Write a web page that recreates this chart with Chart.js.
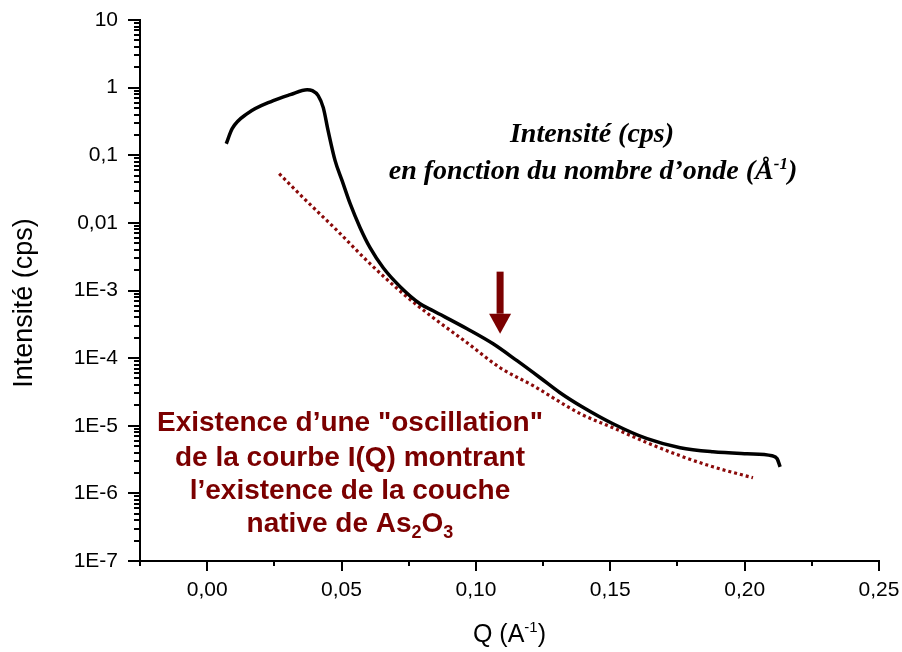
<!DOCTYPE html>
<html>
<head>
<meta charset="utf-8">
<script src="https://cdn.jsdelivr.net/npm/chart.js@4.4.0/dist/chart.umd.min.js"></script>
<style>
  html, body { margin: 0; padding: 0; background: #fff; }
  #wrap { width: 902px; height: 652px; }
</style>
</head>
<body>
<div id="wrap"><canvas id="curve" width="902" height="652"></canvas></div>
<script>
// mesure I(Q)
const qMeasured = [0.0071, 0.0093, 0.0149, 0.0246, 0.0309, 0.0372, 0.0391, 0.0413, 0.0432, 0.0450,
  0.0476, 0.0502, 0.0532, 0.0569, 0.0606, 0.0655, 0.0718, 0.0792, 0.0841, 0.0967,
  0.1064, 0.1153, 0.1239, 0.1313, 0.1395, 0.1510, 0.1637, 0.1760, 0.1882, 0.2009,
  0.2102, 0.2121, 0.2132];
const iMeasured = [0.148, 0.247, 0.412, 0.642, 0.787, 0.934, 0.903, 0.762, 0.506, 0.231,
  0.0832, 0.0421, 0.0192, 0.00849, 0.00430, 0.00217, 0.00114, 6.38e-4, 5.02e-4, 2.72e-4,
  1.63e-4, 9.16e-5, 5.13e-5, 3.08e-5, 1.91e-5, 1.07e-5, 6.43e-6, 4.73e-6, 4.12e-6, 3.85e-6,
  3.60e-6, 3.25e-6, 2.47e-6];

// courbe sans couche (pointillés)
const qFit = [0.0268, 0.0357, 0.0484, 0.0606, 0.0729, 0.0841, 0.0967, 0.1090, 0.1213, 0.1388,
  0.1510, 0.1637, 0.1760, 0.1882, 0.2031];
const iFit = [0.0534, 0.0236, 0.00767, 0.00249, 8.97e-4, 3.96e-4, 1.69e-4, 7.21e-5, 3.91e-5, 1.51e-5,
  9.34e-6, 5.61e-6, 3.60e-6, 2.47e-6, 1.70e-6];

const xTicks = [0, 0.05, 0.10, 0.15, 0.20, 0.25];
const yTicks = [1e-7, 1e-6, 1e-5, 1e-4, 1e-3, 0.01, 0.1, 1, 10];
const yTickLabels = ['1E-7', '1E-6', '1E-5', '1E-4', '1E-3', '0,01', '0,1', '1', '10'];

// flèche : position de l'oscillation
const arrowQ = 0.109;
const arrowTop = 1.9e-3;
const arrowTip = 2.3e-4;

const SANS = '"Liberation Sans", Arial, sans-serif';
const SERIF = '"Liberation Serif", "Times New Roman", serif';
const DARKRED = '#7b0000';

const toPoints = (xs, ys) => xs.map((x, i) => ({ x: x, y: ys[i] }));

const decor = {
  id: 'decor',
  afterDraw(chart) {
    const ctx = chart.ctx;
    const x = chart.scales.x, y = chart.scales.y;
    const area = chart.chartArea;
    ctx.save();
    ctx.strokeStyle = '#000';
    ctx.lineWidth = 2;

    // ticks axe y (décades + mineurs)
    for (let d = -7; d <= 1; d++) {
      for (let k = 1; k <= 9; k++) {
        const v = k * Math.pow(10, d);
        if (v > 10.0001) break;
        const p = Math.round(y.getPixelForValue(v));
        const len = k === 1 ? 12 : 6;
        ctx.beginPath();
        ctx.moveTo(area.left - len, p);
        ctx.lineTo(area.left, p);
        ctx.stroke();
      }
    }
    // ticks axe x
    for (let j = 0; j <= 11; j++) {
      const v = -0.025 + j * 0.025;
      const p = Math.round(x.getPixelForValue(v));
      const len = j % 2 === 1 ? 10 : 5;
      ctx.beginPath();
      ctx.moveTo(p, area.bottom);
      ctx.lineTo(p, area.bottom + len);
      ctx.stroke();
    }

    // titre axe y
    ctx.fillStyle = '#000';
    ctx.save();
    ctx.translate(25, 303);
    ctx.rotate(-Math.PI / 2);
    ctx.textAlign = 'center';
    ctx.textBaseline = 'middle';
    ctx.font = '27px ' + SANS;
    ctx.fillText('Intensité (cps)', 0, 0);
    ctx.restore();

    // titre axe x avec exposant
    ctx.textBaseline = 'alphabetic';
    const a = 'Q (A', b = '-1', c = ')';
    ctx.font = '25px ' + SANS; const wa = ctx.measureText(a).width; const wc = ctx.measureText(c).width;
    ctx.font = '15px ' + SANS; const wb = ctx.measureText(b).width;
    let sx = (area.left + area.right) / 2 - (wa + wb + wc) / 2;
    const by = 642;
    ctx.textAlign = 'left';
    ctx.font = '25px ' + SANS; ctx.fillText(a, sx, by); sx += wa;
    ctx.font = '15px ' + SANS; ctx.fillText(b, sx, by - 10); sx += wb;
    ctx.font = '25px ' + SANS; ctx.fillText(c, sx, by);

    // texte noir en italique
    ctx.font = 'italic bold 28px ' + SERIF;
    ctx.textAlign = 'center';
    ctx.fillText('Intensité (cps)', 592, 142);
    const l2 = 'en fonction du nombre d\u2019onde (\u00C5';
    ctx.font = 'italic bold 28px ' + SERIF; const w1 = ctx.measureText(l2).width; const wp = ctx.measureText(')').width;
    ctx.font = 'italic bold 17px ' + SERIF; const w2 = ctx.measureText('-1').width;
    let tx = 593 - (w1 + w2 + wp) / 2;
    ctx.textAlign = 'left';
    ctx.font = 'italic bold 28px ' + SERIF; ctx.fillText(l2, tx, 179); tx += w1;
    ctx.font = 'italic bold 17px ' + SERIF; ctx.fillText('-1', tx, 169); tx += w2;
    ctx.font = 'italic bold 28px ' + SERIF; ctx.fillText(')', tx, 179);

    // texte rouge
    ctx.fillStyle = DARKRED;
    ctx.textAlign = 'center';
    ctx.font = 'bold 28px ' + SANS;
    ctx.fillText('Existence d\u2019une "oscillation"', 350, 431);
    ctx.fillText('de la courbe I(Q) montrant', 350, 466);
    ctx.fillText('l\u2019existence de la couche', 350, 499);
    const parts = [['native de As', 28, 0], ['2', 18, 6], ['O', 28, 0], ['3', 18, 6]];
    let total = 0;
    parts.forEach(p => { ctx.font = 'bold ' + p[1] + 'px ' + SANS; total += ctx.measureText(p[0]).width; });
    let px = 350 - total / 2;
    ctx.textAlign = 'left';
    parts.forEach(p => {
      ctx.font = 'bold ' + p[1] + 'px ' + SANS;
      ctx.fillText(p[0], px, 532 + p[2]);
      px += ctx.measureText(p[0]).width;
    });

    // flèche
    const ax = x.getPixelForValue(arrowQ);
    const ay0 = y.getPixelForValue(arrowTop);
    const ay1 = y.getPixelForValue(arrowTip);
    ctx.fillRect(ax - 3.5, ay0, 7, (ay1 - ay0) - 20);
    ctx.beginPath();
    ctx.moveTo(ax - 11, ay1 - 20);
    ctx.lineTo(ax + 11, ay1 - 20);
    ctx.lineTo(ax, ay1);
    ctx.closePath();
    ctx.fill();

    ctx.restore();
  }
};

new Chart(document.getElementById('curve').getContext('2d'), {
  type: 'scatter',
  data: {
    datasets: [
      {
        label: 'I(Q)',
        data: toPoints(qMeasured, iMeasured),
        showLine: true,
        borderColor: '#000',
        borderWidth: 3.5,
        pointRadius: 0,
        cubicInterpolationMode: 'monotone',
      },
      {
        label: 'ajustement',
        data: toPoints(qFit, iFit),
        showLine: true,
        borderColor: '#8b0a0a',
        borderWidth: 3.2,
        borderDash: [3, 3],
        pointRadius: 0,
        cubicInterpolationMode: 'monotone',
      }
    ]
  },
  options: {
    responsive: false,
    animation: false,
    layout: { padding: { top: 20, right: 23, left: 0, bottom: 0 } },
    plugins: {
      legend: { display: false },
      tooltip: { enabled: false },
    },
    scales: {
      x: {
        type: 'linear',
        min: -0.025,
        max: 0.25,
        afterBuildTicks: (s) => { s.ticks = xTicks.map(v => ({ value: v })); },
        afterFit: (s) => { s.height = 91; s.paddingLeft = 0; s.paddingRight = 0; },
        grid: { display: false },
        border: { display: true, color: '#000', width: 2 },
        ticks: {
          padding: 9,
          color: '#000',
          font: { family: SANS, size: 21 },
          maxRotation: 0,
          callback: (v) => v.toFixed(2).replace('.', ','),
        },
      },
      y: {
        type: 'logarithmic',
        min: 1e-7,
        max: 10,
        afterBuildTicks: (s) => { s.ticks = yTicks.map(v => ({ value: v })); },
        afterFit: (s) => { s.width = 140; s.paddingTop = 0; s.paddingBottom = 0; },
        grid: { display: false },
        border: { display: true, color: '#000', width: 2 },
        ticks: {
          padding: 14,
          color: '#000',
          font: { family: SANS, size: 21 },
          callback: (v) => yTickLabels[yTicks.findIndex(t => Math.abs(t - v) / t < 1e-6)],
        },
      }
    }
  },
  plugins: [decor]
});
</script>
</body>
</html>
